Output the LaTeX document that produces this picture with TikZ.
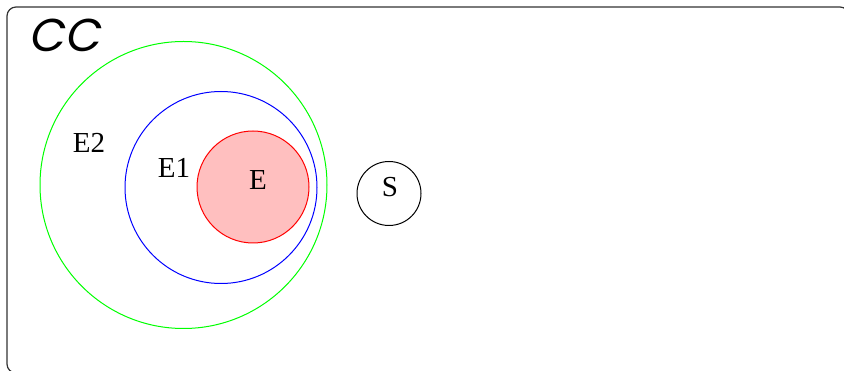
\documentclass[tikz,border=0pt]{standalone}
\usepackage{fontspec}
\setmainfont{Liberation Serif}
\newfontfamily\ccfont[FakeSlant=0.2]{Poppins}
\begin{document}
\begin{tikzpicture}[x=1pt, y=-1pt, line width=1pt,
  lbl/.style={inner sep=0pt, font=\fontsize{29}{34}\selectfont}]
\useasboundingbox (0,0) rectangle (844,371);
\coordinate (O2) at (183.5,185); \coordinate (O1) at (221,187.5);
\coordinate (O) at (253,187); \coordinate (OS) at (389,193.5);
\draw[black!80, line width=1.2pt, rounded corners=9pt] (7,7) rectangle (849,373);
\node[inner sep=0pt, font=\ccfont\fontsize{46}{50}\selectfont] (cc) at (64,35) {CC};
\draw[draw=red, fill=red!25] (O) circle (56pt);
\draw[blue] (O1) circle (96pt);
\draw[green] (O2) circle (143.5pt);
\draw (OS) circle (32pt);
\foreach \n/\x/\y/\txt in {e2/89/143/E2, e1/174/168/E1, e/258/180/E, s/390/187/S} {
\node[lbl] (\n) at (\x,\y) {\txt};}
\end{tikzpicture}
\end{document}
